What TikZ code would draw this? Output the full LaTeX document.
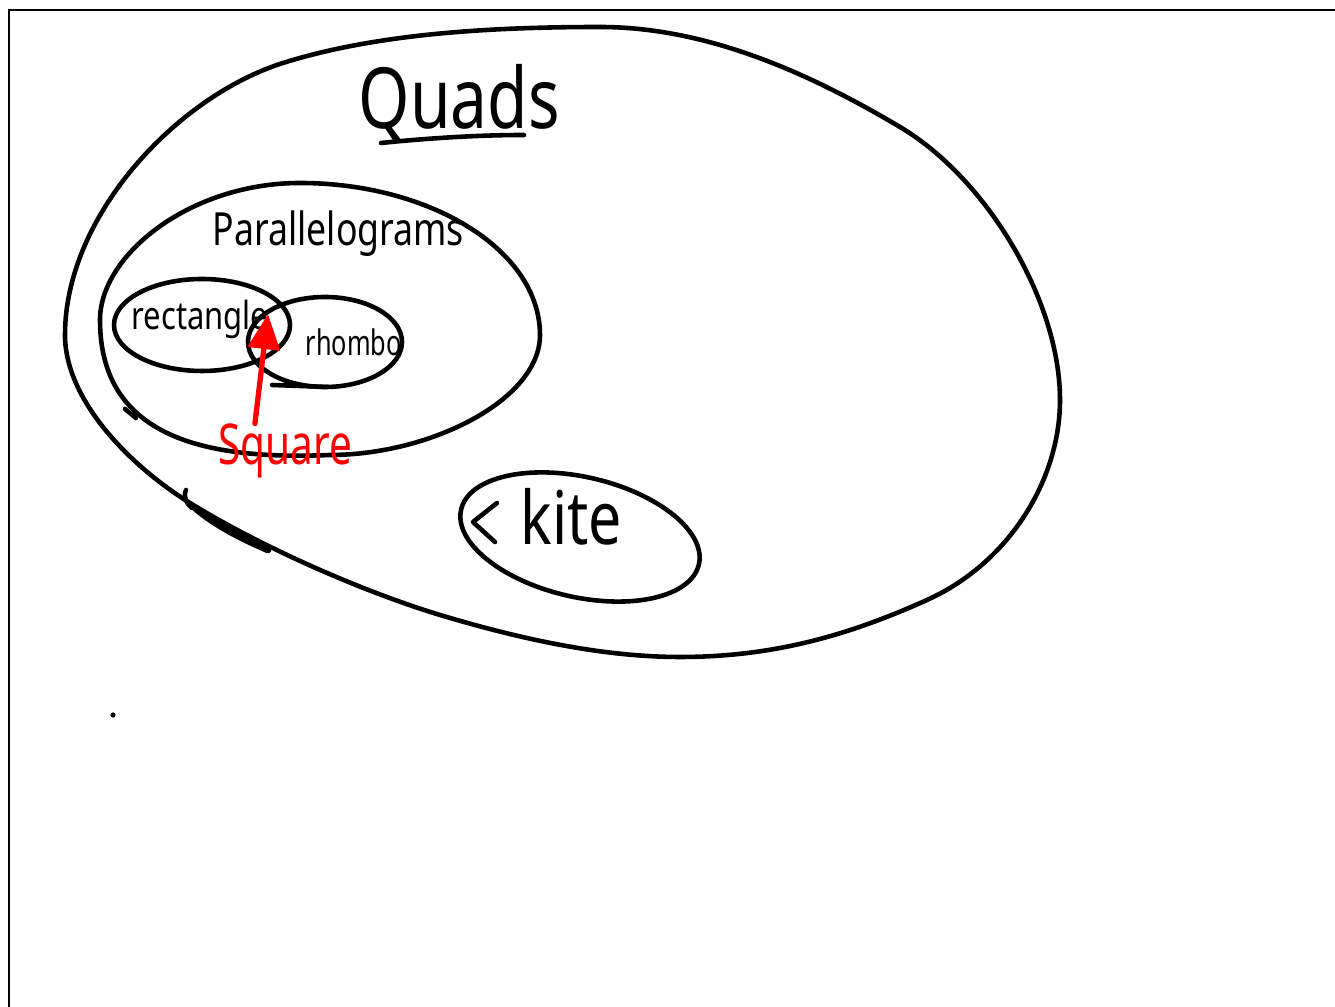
\documentclass[tikz,border=0pt]{standalone}
\usepackage{fontspec}
\usepackage{graphicx}
\setmainfont{Noto Sans}
\usetikzlibrary{arrows.meta}
\definecolor{inkred}{RGB}{255,0,0}
\newcommand{\hw}[3]{\scalebox{#2}[1]{\fontsize{#1}{#1}\selectfont #3}}
\begin{document}
\begin{tikzpicture}[x=0.01cm,y=-0.01cm,
  pen/.style={line width=1.3pt, line cap=round, line join=round},
  redpen/.style={pen, draw=inkred, line width=1.5pt},
  hand/.style={inner sep=0pt, anchor=base west},
]
\useasboundingbox (0,0) rectangle (1335,1007);
% page frame
\draw[line width=0.75pt] (1335,10) -- (9,10) -- (9,1007);

% Quads
\draw[pen] (65,335)
  .. controls (65,215) and (178,96) .. (283,63)
  .. controls (378,33) and (495,27) .. (600,27)
  .. controls (710,27) and (814,76) .. (900,127)
  .. controls (986,178) and (1060,300) .. (1060,400)
  .. controls (1060,480) and (1009,563) .. (927,600)
  .. controls (845,637) and (770,657) .. (680,657)
  .. controls (600,657) and (517,638) .. (440,615)
  .. controls (358,590) and (258,545) .. (190,503)
  .. controls (130,466) and (65,400) .. cycle;
\draw[pen, line width=1.9pt] (195,508) .. controls (215,525) and (240,538) .. (268,550);
\draw[pen] (186,490) .. controls (183,497) and (186,503) .. (192,508);

% Parallelograms
\draw[pen] (100,320)
  .. controls (100,255) and (190,183) .. (300,183)
  .. controls (430,183) and (540,250) .. (540,335)
  .. controls (540,400) and (430,455) .. (330,455)
  .. controls (210,460) and (100,440) .. cycle;
\draw[pen] (125,409) -- (136,418);

% rectangle and rhombus sets
\draw[pen] (202,325) ellipse [x radius=88, y radius=46];
\draw[pen] (325,342) ellipse [x radius=77, y radius=45];
\draw[pen] (272,385) -- (328,387);

% kite set
\draw[pen, rotate around={-13:(580,537)}] (580,537) ellipse [x radius=122, y radius=60];
\draw[pen] (497,503) -- (473,522) -- (495,542);

% stray dot
\fill (113,715) circle [radius=2.6];

% labels
\node[hand] (quads) at (358,129) {\hw{24}{0.78}{Quads}};
\draw[pen] (381,143) .. controls (430,138) and (480,135) .. (524,135);
\node[hand] (para) at (212,246) {\hw{13}{0.78}{Parallelograms}};
\node[hand] (rect) at (131,330) {\hw{11}{0.8}{rectangle}};
\node[hand] (rhom) at (305,356) {\hw{10}{0.72}{rhombo}};
\node[hand] (kite) at (520,545) {\hw{21}{0.8}{kite}};

% square: red label pointing into the overlap
\node[hand, text=inkred] (sq) at (218,465) {\hw{16}{0.72}{Square}};
\coordinate (sqtip) at (268,314);
\draw[redpen, -{Triangle[length=10pt, width=9pt]}] ([xshift=10.5pt]sq.north west) -- (sqtip);
\end{tikzpicture}
\end{document}
